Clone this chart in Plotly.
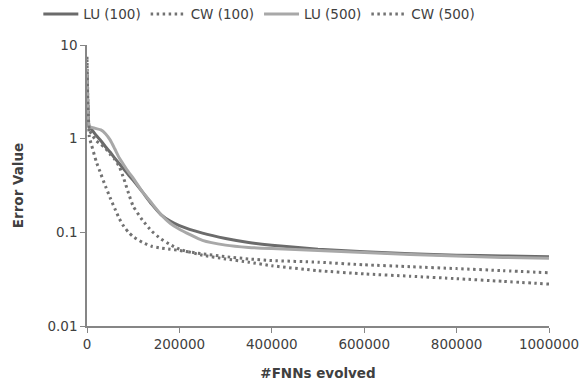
import plotly.graph_objects as go

x_vals = [0, 5000, 10000, 20000, 30000, 40000, 50000, 60000, 70000, 80000, 90000,
          100000, 120000, 140000, 160000, 180000, 200000, 250000, 300000, 350000,
          400000, 500000, 600000, 700000, 800000, 900000, 1000000]

lu_100 = [5.0, 1.32, 1.25, 1.08, 0.95, 0.82, 0.72, 0.62, 0.54, 0.47, 0.41,
          0.36, 0.27, 0.20, 0.155, 0.132, 0.118, 0.098, 0.086, 0.078,
          0.073, 0.066, 0.062, 0.059, 0.057, 0.056, 0.055]

cw_100 = [7.5, 1.05, 0.85, 0.57, 0.42, 0.31, 0.235, 0.18, 0.14, 0.115, 0.10,
          0.09, 0.078, 0.071, 0.068, 0.066, 0.064, 0.059, 0.055, 0.052,
          0.050, 0.048, 0.045, 0.043, 0.041, 0.039, 0.037]

lu_500 = [5.5, 1.34, 1.32, 1.28, 1.24, 1.13, 0.97, 0.78, 0.62, 0.52, 0.44,
          0.38, 0.27, 0.205, 0.155, 0.125, 0.108, 0.082, 0.073, 0.069,
          0.067, 0.064, 0.061, 0.058, 0.056, 0.054, 0.053]

cw_500 = [7.0, 1.25, 1.12, 0.95, 0.87, 0.79, 0.68, 0.60, 0.50, 0.37, 0.26,
          0.19, 0.135, 0.103, 0.085, 0.074, 0.066, 0.057, 0.052, 0.048,
          0.044, 0.039, 0.036, 0.034, 0.032, 0.030, 0.028]

series_names = ["LU (100)", "CW (100)", "LU (500)", "CW (500)"]
x_tick_vals = [0, 200000, 400000, 600000, 800000, 1000000]
x_tick_text = ["0", "200000", "400000", "600000", "800000", "1000000"]
y_tick_vals = [0.01, 0.1, 1, 10]
y_tick_text = ["0.01", "0.1", "1", "10"]

styles = [
    dict(color="#6b6b6b", width=3, dash="solid"),
    dict(color="#727272", width=3, dash="2.5px,3.5px"),
    dict(color="#a8a8a8", width=3, dash="solid"),
    dict(color="#727272", width=3, dash="2.5px,3.5px"),
]

fig = go.Figure()
for name, ys, st in zip(series_names, [lu_100, cw_100, lu_500, cw_500], styles):
    fig.add_trace(go.Scatter(x=x_vals, y=ys, mode="lines", name=name,
                             line=dict(color=st["color"], width=st["width"],
                                       dash=st["dash"], shape="spline", smoothing=0.5)))

font_fam = "DejaVu Sans, Verdana, sans-serif"
fig.update_layout(
    width=580, height=381,
    margin=dict(l=87, r=31, t=45, b=55, autoexpand=False),
    paper_bgcolor="white", plot_bgcolor="white",
    font=dict(family=font_fam, size=13.5, color="#404040"),
    showlegend=True,
    legend=dict(orientation="h", x=0.373, xanchor="center", y=1.165, yanchor="top",
                font=dict(size=13.5, color="#404040"), bgcolor="rgba(0,0,0,0)",
                itemwidth=35, tracegroupgap=0),
    xaxis=dict(range=[0, 1000000], tickvals=x_tick_vals, ticktext=x_tick_text,
               showgrid=False, zeroline=False, showline=True, linecolor="#868686",
               linewidth=1.5, ticks="outside", ticklen=5, tickcolor="#868686",
               automargin=False,
               title=dict(text="<b>#FNNs evolved</b>", standoff=20,
                          font=dict(size=13.5, color="#404040"))),
    yaxis=dict(type="log", range=[-2, 1], tickvals=y_tick_vals, ticktext=y_tick_text,
               showgrid=False, zeroline=False, showline=True, linecolor="#868686",
               linewidth=1.5, ticks="outside", ticklen=5, tickcolor="#868686",
               automargin=False,
               title=dict(text="<b>Error Value</b>", standoff=21,
                          font=dict(size=13.5, color="#404040"))),
)

fig.write_html("out.html")
